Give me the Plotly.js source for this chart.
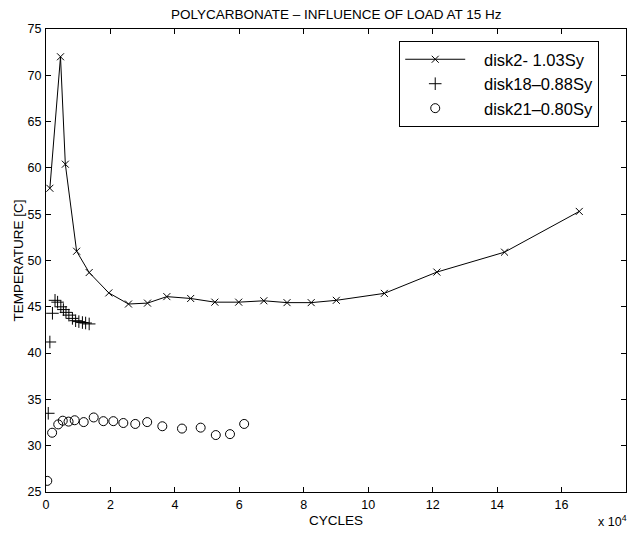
<!DOCTYPE html>
<html>
<head>
<meta charset="utf-8">
<script src="https://cdn.plot.ly/plotly-3.0.1.min.js"></script>
<style>html,body{margin:0;padding:0;background:#fff;}#chart{width:630px;height:534px;}</style>
</head>
<body>
<div id="chart"></div>
<script>
// disk2 - 1.03Sy (cycles, temperature C)
const disk2Cycles = [1200, 4500, 6000, 9500, 13400, 19500, 25600, 31500, 37500, 44900, 52400, 59800, 67600, 74800, 82300, 90100, 105000, 121300, 142300, 165500];
const disk2Temp   = [57.8, 72.0, 60.4, 51.0, 48.7, 46.5, 45.3, 45.4, 46.1, 45.9, 45.5, 45.5, 45.65, 45.45, 45.45, 45.7, 46.45, 48.75, 50.9, 55.3];

// disk18 - 0.88Sy
const disk18Cycles = [700, 1200, 2000, 2800, 3600, 4600, 5400, 6200, 7100, 8200, 9200, 10200, 11300, 12300, 13400];
const disk18Temp   = [33.5, 41.2, 44.3, 45.7, 45.5, 45.0, 44.7, 44.4, 44.1, 43.75, 43.5, 43.4, 43.3, 43.25, 43.15];

// disk21 - 0.80Sy
const disk21Cycles = [400, 1900, 3800, 5200, 7000, 8900, 11700, 14800, 17800, 20900, 24000, 27700, 31400, 36100, 42200, 48000, 52700, 57100, 61500];
const disk21Temp   = [26.2, 31.4, 32.3, 32.7, 32.6, 32.75, 32.55, 33.05, 32.65, 32.65, 32.45, 32.35, 32.55, 32.1, 31.85, 31.95, 31.15, 31.25, 32.35];

const xTickVals = [0, 20000, 40000, 60000, 80000, 100000, 120000, 140000, 160000, 180000];
const xTickText = ['0', '2', '4', '6', '8', '10', '12', '14', '16', '18'];
const yTickVals = [25, 30, 35, 40, 45, 50, 55, 60, 65, 70, 75];

const font = 'Liberation Sans, Arial, Helvetica, sans-serif';
const NB = '\u00a0';
const pad = NB.repeat(3);

const traces = [
  {x: disk2Cycles, y: disk2Temp, name: pad + 'disk2- 1.03Sy', type: 'scatter', mode: 'lines+markers',
   line: {color: '#000', width: 1}, marker: {symbol: 'x-thin-open', size: 7, color: '#000', line: {color: '#000', width: 1}}},
  {x: disk18Cycles, y: disk18Temp, name: pad + 'disk18\u20130.88Sy', type: 'scatter', mode: 'markers',
   marker: {symbol: 'cross-thin-open', size: 9, color: '#000', line: {color: '#000', width: 1}}},
  {x: disk21Cycles, y: disk21Temp, name: pad + 'disk21\u20130.80Sy', type: 'scatter', mode: 'markers',
   marker: {symbol: 'circle-open', size: 9, color: '#000', line: {color: '#000', width: 1}}}
];

const axisCommon = {
  showgrid: false, zeroline: false, showline: true, linecolor: '#000', linewidth: 1,
  mirror: 'ticks', ticks: 'inside', ticklen: 5, tickcolor: '#000', tickwidth: 1,
  tickfont: {family: font, size: 12.5, color: '#000'}
};

const layout = {
  width: 630, height: 534,
  margin: {l: 46, r: 4, t: 29, b: 42},
  paper_bgcolor: '#fff', plot_bgcolor: '#fff',
  font: {family: font, color: '#000'},
  showlegend: true,
  legend: {x: 0.609, y: 0.974, xanchor: 'left', yanchor: 'top', bgcolor: '#fff',
           bordercolor: '#000', borderwidth: 1, font: {family: font, size: 16.5, color: '#000'},
           itemwidth: 60},
  xaxis: Object.assign({}, axisCommon, {range: [0, 180000], tickvals: xTickVals, ticktext: xTickText, ticklabelstandoff: 1}),
  yaxis: Object.assign({}, axisCommon, {range: [25, 75], tickvals: yTickVals, ticklabelstandoff: 1}),
  annotations: [
    {text: 'POLYCARBONATE \u2013 INFLUENCE OF LOAD AT 15 Hz', xref: 'paper', yref: 'paper', x: 0.5, y: 1, yshift: 15,
     xanchor: 'center', yanchor: 'middle',
     showarrow: false, font: {family: font, size: 13.5, color: '#000'}},
    {text: 'CYCLES', xref: 'paper', yref: 'paper', x: 0.5, y: 0, yshift: -28, xanchor: 'center', yanchor: 'middle',
     showarrow: false, font: {family: font, size: 13.5, color: '#000'}},
    {text: 'TEMPERATURE [C]', xref: 'paper', yref: 'paper', x: 0, xshift: -28, y: 0.5, textangle: -90,
     xanchor: 'center', yanchor: 'middle',
     showarrow: false, font: {family: font, size: 13.5, color: '#000'}},
    {text: 'x 10<sup>4</sup>', xref: 'paper', yref: 'paper', x: 1, xanchor: 'right', yanchor: 'middle', xshift: 3, y: 0, yshift: -29,
     showarrow: false, font: {family: font, size: 12.5, color: '#000'}}
  ]
};

Plotly.newPlot('chart', traces, layout, {displayModeBar: false, staticPlot: true});
</script>
</body>
</html>
